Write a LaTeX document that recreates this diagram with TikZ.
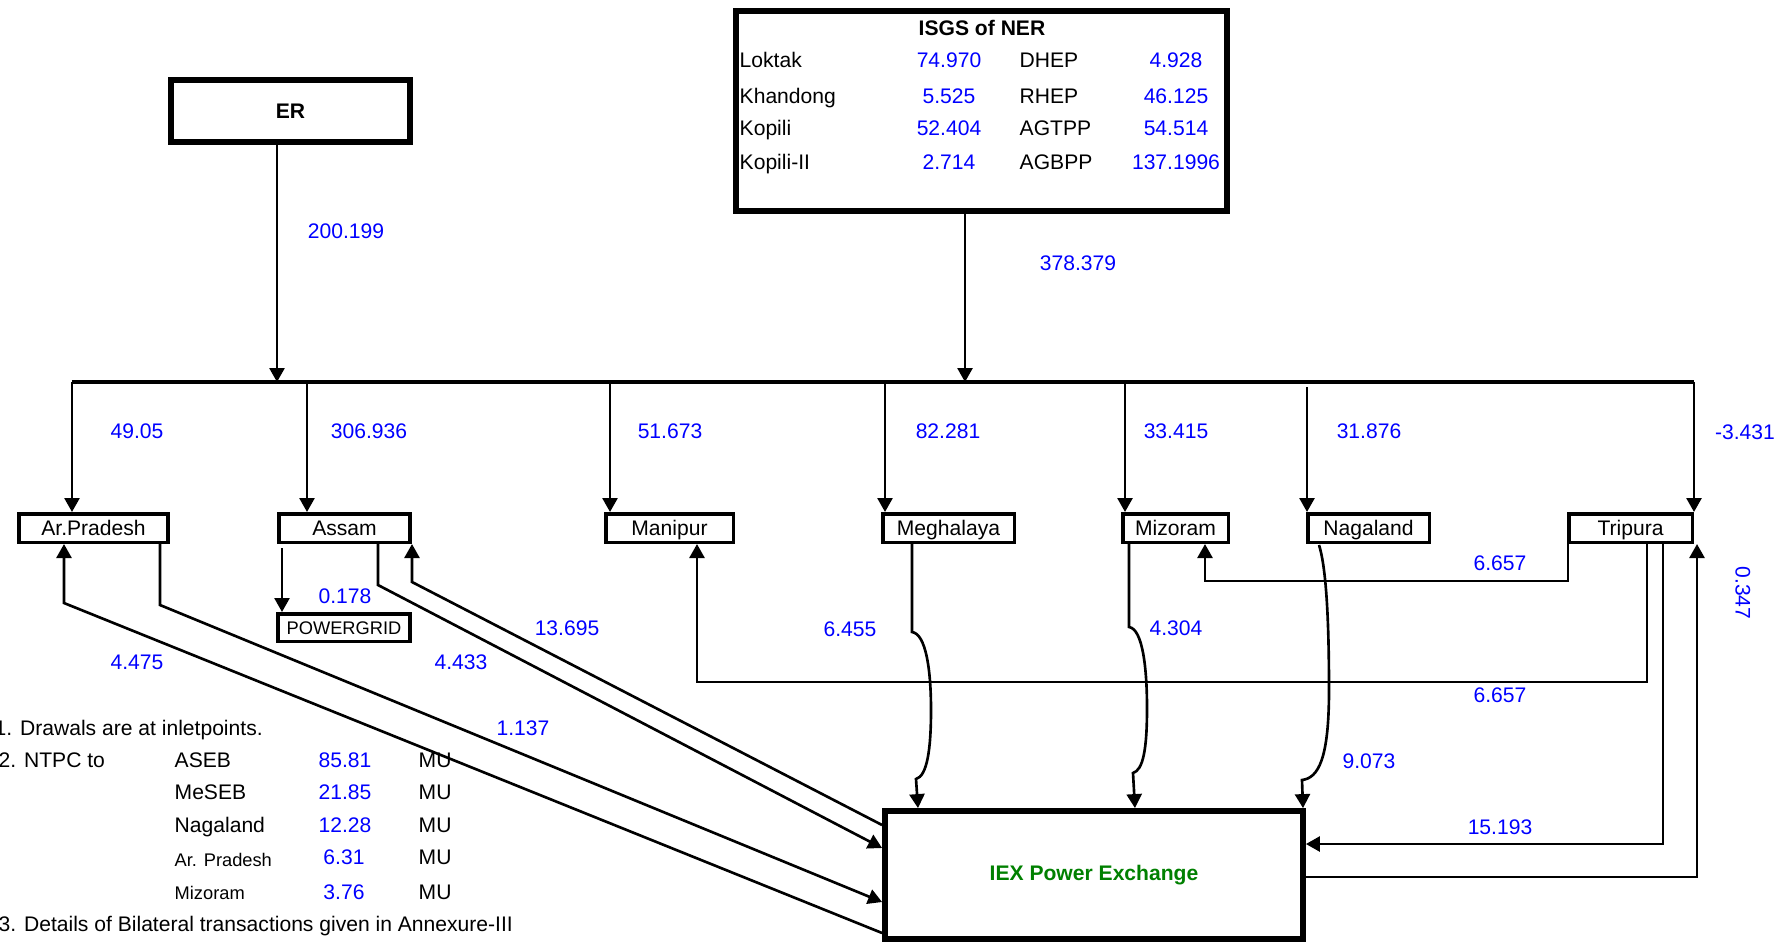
\documentclass[tikz,border=0pt]{standalone}
\usepackage{fontspec}
\setmainfont{Liberation Sans}
\usetikzlibrary{arrows.meta}
\definecolor{iexgreen}{RGB}{0,128,0}
\definecolor{valblue}{RGB}{0,0,255}
\tikzset{
  state/.style={draw, line width=1pt, minimum height=2.85mm, inner sep=0pt, text height=1.5mm, text depth=0pt, font=\fontsize{6}{7}\selectfont},
  pool/.style={draw, line width=1.8pt, inner sep=0pt, font=\fontsize{6}{7}\selectfont\bfseries},
  flow/.style={line width=0.75pt, -{Triangle[length=1.4mm,width=1.5mm]}},
  val/.style={text=valblue, font=\fontsize{6}{7}\selectfont, inner sep=0pt, text height=1.5mm, text depth=0pt},
  txt/.style={font=\fontsize{6}{7}\selectfont, inner sep=0pt, text height=1.5mm, text depth=0pt},
  small/.style={font=\fontsize{5.2}{6}\selectfont, inner sep=0pt, text height=1.3mm, text depth=0pt},
}
\begin{document}
\begin{tikzpicture}[x=0.1mm, y=-0.1mm]
    \useasboundingbox (0,0) rectangle (1785,948);

    % Sources
    \node[pool, minimum width=23.85mm, minimum height=6.15mm] (er) at (290.5,111) {ER};
    \node[pool, minimum width=49.05mm, minimum height=20.0mm] (isgs) at (981.5,111) {};
    \node[txt, font=\fontsize{6}{7}\selectfont\bfseries] (isgsT) at (982,28) {ISGS of NER};
    \foreach \nm/\va/\nmb/\vb/\yy [count=\i] in {Loktak/74.970/DHEP/4.928/60, Khandong/5.525/RHEP/46.125/96, Kopili/52.404/AGTPP/54.514/128, Kopili-II/2.714/AGBPP/137.1996/162}{
        \node[txt, anchor=west] (gA\i) at (739,\yy) {\nm};
        \node[val] (vA\i) at (949,\yy) {\va};
        \node[txt, anchor=west] (gB\i) at (1019,\yy) {\nmb};
        \node[val] (vB\i) at (1176,\yy) {\vb};
    }

    % States
    \node[state, minimum width=14.95mm] (apr) at (93.5,528) {Ar.Pradesh};
    \node[state, minimum width=13.15mm] (asm) at (344.5,528) {Assam};
    \node[state, minimum width=12.75mm] (man) at (669.5,528) {Manipur};
    \node[state, minimum width=13.15mm] (meg) at (948.5,528) {Meghalaya};
    \node[state, minimum width=10.55mm] (miz) at (1175.5,528) {Mizoram};
    \node[state, minimum width=12.15mm] (nag) at (1368.5,528) {Nagaland};
    \node[state, minimum width=12.35mm] (tri) at (1630.5,528) {Tripura};
    \node[state, minimum width=13.25mm, minimum height=2.75mm, text height=1.3mm, font=\fontsize{5.2}{6}\selectfont] (pg) at (344,627.5) {POWERGRID};
    \node[pool, minimum width=41.75mm, minimum height=12.75mm, text=iexgreen] (iex) at (1094,875) {IEX Power Exchange};

    % Bus
    \coordinate (dApr) at (72,382);
    \coordinate (dAsm) at (307,382);
    \coordinate (dMan) at (610,382);
    \coordinate (dMeg) at (885,382);
    \coordinate (dMiz) at (1125,382);
    \coordinate (dNag) at (1307,387);
    \coordinate (dTri) at (1694,382);
    \draw[line width=0.9pt] (dApr) -- (dTri);

    % Inflows to the bus
    \coordinate (erX) at (277,382);
    \coordinate (isX) at (965,382);
    \draw[flow] (erX |- er.south) -- (erX);
    \draw[flow] (isX |- isgs.south) -- (isX);

    % Drawals
    \draw[flow] (dApr) -- (dApr |- apr.north);
    \draw[flow] (dAsm) -- (dAsm |- asm.north);
    \draw[flow] (dMan) -- (dMan |- man.north);
    \draw[flow] (dMeg) -- (dMeg |- meg.north);
    \draw[flow] (dMiz) -- (dMiz |- miz.north);
    \draw[flow] (dNag) -- (dNag |- nag.north);
    \draw[flow] (dTri) -- (dTri |- tri.north);

    % Assam, Ar.Pradesh and the exchange
    \coordinate (bA) at (412,582);
    \coordinate (bB) at (378,585);
    \coordinate (bC) at (160,605);
    \coordinate (bD) at (64,603);
    \coordinate (bE) at (282,548);
    \draw[flow] (bE) -- (bE |- pg.north);
    \draw[flow] (iex.west |- 0,825) -- (bA) -- (bA |- asm.south);
    \draw[flow] (bB |- asm.south) -- (bB) -- (iex.west |- 0,848);
    \draw[flow] (bC |- apr.south) -- (bC) -- (iex.west |- 0,902);
    \draw[flow] (iex.west |- 0,933) -- (bD) -- (bD |- apr.south);

    % Meghalaya, Mizoram, Nagaland to the exchange
    \coordinate (cM) at (912,632);
    \coordinate (cZ) at (1129,627);
    \coordinate (cN) at (1319,545);
    \draw[flow] (cM |- meg.south) -- (cM) .. controls (926,634) and (931,670) .. (931,710)
        .. controls (931,750) and (927,776) .. (916,779) -- (iex.north -| 918,0);
    \draw[flow] (cZ |- miz.south) -- (cZ) .. controls (1143,629) and (1147,670) .. (1147,708)
        .. controls (1147,750) and (1143,770) .. (1133,773) -- (iex.north -| 1135,0);
    \draw[flow] (cN) .. controls (1327,570) and (1329,630) .. (1329,690)
        .. controls (1329,760) and (1318,778) .. (1302,780) -- (iex.north -| 1303,0);

    % Tripura
    \coordinate (tA) at (1568,581);
    \coordinate (tB) at (1647,682);
    \coordinate (tC) at (1663,844);
    \coordinate (tD) at (1697,877);
    \draw[flow] (tA |- tri.south) -- (tA) -| ([xshift=2.95mm]miz.south);
    \draw[flow] (tB |- tri.south) -- (tB) -| ([xshift=2.75mm]man.south);
    \draw[flow] (tC |- tri.south) -- (tC) -- (iex.east |- tC);
    \draw[flow] (iex.east |- tD) -- (tD) -- (tD |- tri.south);

    % Values
    \node[val] (l200) at (346,231) {200.199};
    \node[val] (l378) at (1078,263) {378.379};
    \node[val] (lApr) at (137,431) {49.05};
    \node[val] (lAsm) at (369,431) {306.936};
    \node[val] (lMan) at (670,431) {51.673};
    \node[val] (lMeg) at (948,431) {82.281};
    \node[val] (lMiz) at (1176,431) {33.415};
    \node[val] (lNag) at (1369,431) {31.876};
    \node[val] (lTri) at (1745,432) {-3.431};
    \node[val] (lPg) at (345,596) {0.178};
    \node[val] (lA1) at (567,628) {13.695};
    \node[val] (lA2) at (461,662) {4.433};
    \node[val] (lP2) at (137,662) {4.475};
    \node[val] (lP1) at (523,728) {1.137};
    \node[val] (lMeg2) at (850,629) {6.455};
    \node[val] (lMiz2) at (1176,628) {4.304};
    \node[val] (lNag2) at (1369,761) {9.073};
    \node[val] (lT1) at (1500,563) {6.657};
    \node[val] (lT2) at (1500,695) {6.657};
    \node[val] (lT3) at (1500,827) {15.193};
    \node[val, rotate=-90] (lT4) at (1743,593) {0.347};

    % Notes
    \node[txt, anchor=west] (n1) at (-6,728) {1. Drawals are at inletpoints.};
    \node[txt, anchor=west] (n2) at (-2,760) {2. NTPC to};
    \foreach \who/\amt/\yy [count=\i] in {ASEB/85.81/760, MeSEB/21.85/792, Nagaland/12.28/825}{
        \node[txt, anchor=west] (nt\i) at (174,\yy) {\who};
        \node[val] (na\i) at (345,\yy) {\amt};
        \node[txt, anchor=west] (nu\i) at (418,\yy) {MU};
    }
    \node[small, anchor=west] (nt4) at (174,860) {Ar. Pradesh};
    \node[val] (na4) at (344,857) {6.31};
    \node[txt, anchor=west] (nu4) at (418,857) {MU};
    \node[small, anchor=west] (nt5) at (174,893) {Mizoram};
    \node[val] (na5) at (344,892) {3.76};
    \node[txt, anchor=west] (nu5) at (418,892) {MU};
    \node[txt, anchor=west] (n3) at (-2,924) {3. Details of Bilateral transactions given in Annexure-III};
\end{tikzpicture}
\end{document}
